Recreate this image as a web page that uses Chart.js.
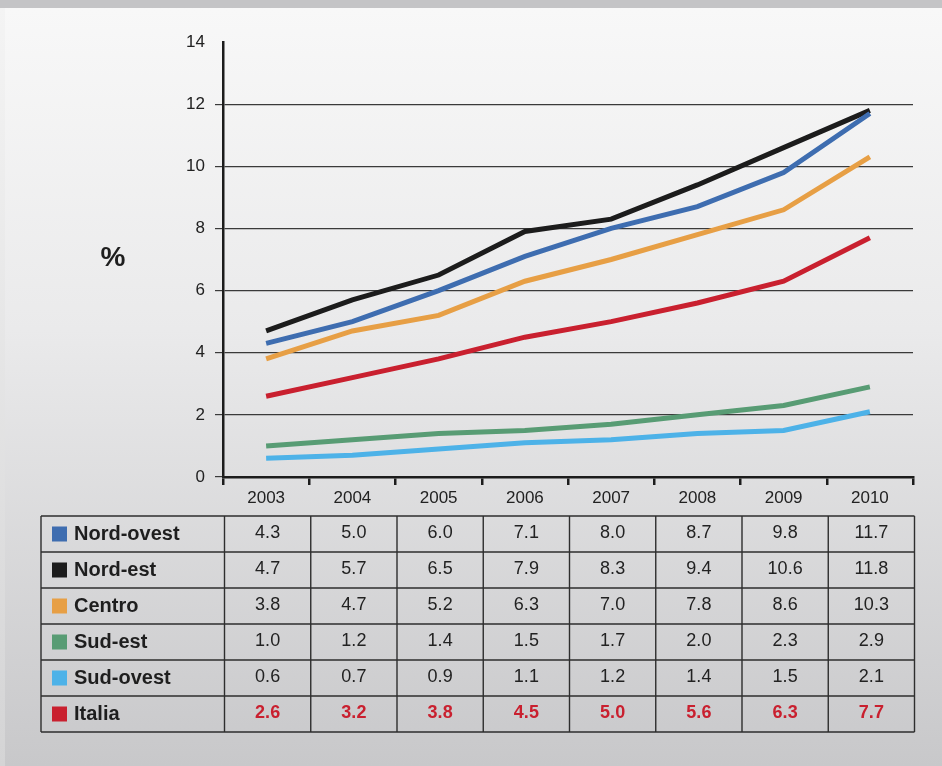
<!DOCTYPE html>
<html>
<head>
<meta charset="utf-8">
<script src="https://cdn.jsdelivr.net/npm/chart.js@4/dist/chart.umd.min.js"></script>
<style>
  html, body { margin: 0; padding: 0; }
  body {
    width: 942px; height: 766px; overflow: hidden; position: relative;
    background: linear-gradient(to bottom, #c4c4c6 0px, #c4c4c6 8px, #f8f8f8 8px, #eaeaeb 330px, #c8c8ca 766px);
  }
  #edge { position: absolute; left: 0; top: 8px; width: 5px; height: 758px;
    background: linear-gradient(to bottom, #f4f4f4, #d4d4d5); }
  #wrap { position: absolute; left: 0; top: 0; width: 942px; height: 766px; }
</style>
</head>
<body>
<div id="edge"></div>
<div id="wrap"><canvas id="c"></canvas></div>
<script>
// Years on the horizontal axis
const years = ['2003', '2004', '2005', '2006', '2007', '2008', '2009', '2010'];

// Share (%) by area, one array per series
const nordOvest = [4.3, 5.0, 6.0, 7.1, 8.0, 8.7, 9.8, 11.7];
const nordEst   = [4.7, 5.7, 6.5, 7.9, 8.3, 9.4, 10.6, 11.8];
const centro    = [3.8, 4.7, 5.2, 6.3, 7.0, 7.8, 8.6, 10.3];
const sudEst    = [1.0, 1.2, 1.4, 1.5, 1.7, 2.0, 2.3, 2.9];
const sudOvest  = [0.6, 0.7, 0.9, 1.1, 1.2, 1.4, 1.5, 2.1];
const italia    = [2.6, 3.2, 3.8, 4.5, 5.0, 5.6, 6.3, 7.7];

const seriesNames = ['Nord-ovest', 'Nord-est', 'Centro', 'Sud-est', 'Sud-ovest', 'Italia'];
const seriesData = [nordOvest, nordEst, centro, sudEst, sudOvest, italia];
const seriesColors = ['#3e6db0', '#1c1c1c', '#e79f45', '#589c74', '#4db2e8', '#c9202f'];

// Y tick values
const yMin = 0, yMax = 14, yStep = 2;

const FONT = '"Liberation Sans", Arial, Helvetica, sans-serif';

// Data table under the axis plus the "%" axis caption
const tablePlugin = {
  id: 'dataTable',
  afterDraw(chart) {
    const ctx = chart.ctx;
    const xs = chart.scales.x;
    const left = 41;
    const top = 516;
    const rowH = 36;
    const n = years.length;
    const half = (xs.getPixelForValue(1) - xs.getPixelForValue(0)) / 2;
    const bounds = [left];
    for (let i = 0; i <= n; i++) bounds.push(xs.getPixelForValue(i) - half + 1.5);
    const right = bounds[bounds.length - 1];
    const bottom = top + rowH * seriesNames.length;

    ctx.save();
    // caption
    ctx.fillStyle = '#1e1e1e';
    ctx.font = 'bold 28px ' + FONT;
    ctx.textAlign = 'center';
    ctx.textBaseline = 'middle';
    ctx.fillText('%', 113, 258);

    // grid of the table
    ctx.strokeStyle = '#2e2e2e';
    ctx.lineWidth = 1.4;
    ctx.beginPath();
    for (let r = 0; r <= seriesNames.length; r++) {
      ctx.moveTo(left, top + r * rowH);
      ctx.lineTo(right, top + r * rowH);
    }
    bounds.forEach(b => { ctx.moveTo(b, top); ctx.lineTo(b, bottom); });
    ctx.stroke();

    seriesNames.forEach((name, r) => {
      const cy = top + r * rowH + rowH / 2;
      ctx.fillStyle = seriesColors[r];
      ctx.fillRect(52, cy - 7.5, 15, 15);
      ctx.fillStyle = '#1e1e1e';
      ctx.font = 'bold 20px ' + FONT;
      ctx.textAlign = 'left';
      ctx.textBaseline = 'middle';
      ctx.fillText(name, 74, cy + 0.5);
      const isTotal = name === 'Italia';
      ctx.font = (isTotal ? 'bold ' : '') + '18px ' + FONT;
      ctx.fillStyle = isTotal ? '#c9202f' : '#222';
      ctx.textAlign = 'center';
      seriesData[r].forEach((v, i) => {
        ctx.fillText(v.toFixed(1), xs.getPixelForValue(i) + 1.5, cy - 1);
      });
    });
    ctx.restore();
  }
};

new Chart(document.getElementById('c'), {
  type: 'line',
  data: {
    labels: years,
    datasets: seriesNames.map((name, i) => ({
      label: name,
      data: seriesData[i],
      borderColor: seriesColors[i],
      backgroundColor: seriesColors[i],
      borderWidth: 5,
      borderCapStyle: 'butt',
      pointRadius: 0,
      tension: 0,
      fill: false
    }))
  },
  options: {
    responsive: true,
    maintainAspectRatio: false,
    animation: false,
    layout: { padding: { top: 42, right: 29, left: 0, bottom: 0 } },
    plugins: { legend: { display: false }, tooltip: { enabled: false } },
    scales: {
      x: {
        offset: true,
        grid: {
          offset: true,
          drawOnChartArea: false,
          drawTicks: true,
          tickLength: 8,
          color: '#1c1c1c',
          lineWidth: 2.5
        },
        border: { display: true, color: '#1c1c1c', width: 2.5 },
        ticks: { color: '#222', font: { family: FONT, size: 17 }, padding: 3, maxRotation: 0 },
        afterFit: s => { s.height = 289; }
      },
      y: {
        min: yMin,
        max: yMax,
        grid: {
          color: c => (c.tick && c.tick.value === yMax) ? 'rgba(0,0,0,0)' : '#3a3a3a',
          lineWidth: 1.2,
          tickLength: 8,
          drawTicks: true
        },
        border: { display: true, color: '#1c1c1c', width: 2.5 },
        ticks: { stepSize: yStep, color: '#222', font: { family: FONT, size: 17 }, padding: 10 },
        afterFit: s => { s.width = 223; }
      }
    }
  },
  plugins: [tablePlugin]
});
</script>
</body>
</html>
